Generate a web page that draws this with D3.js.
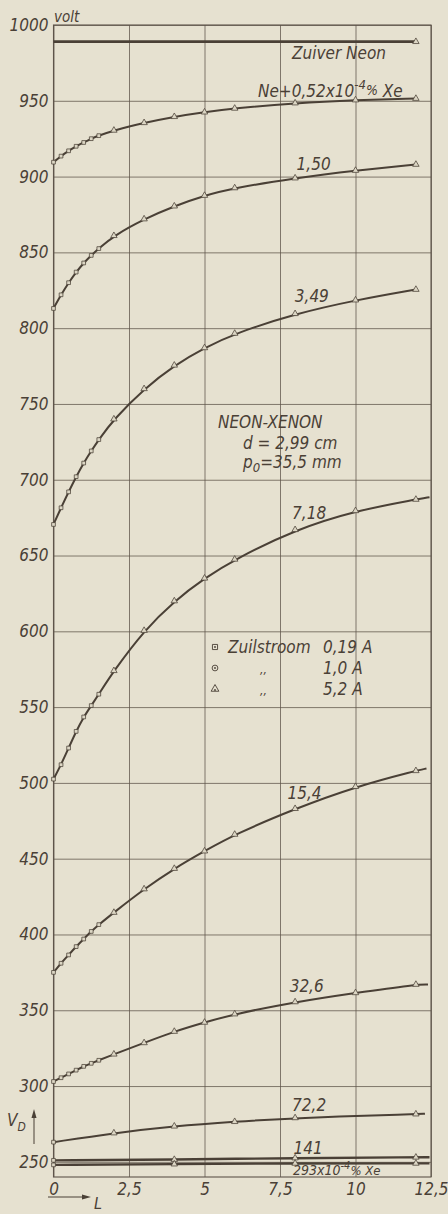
<!DOCTYPE html>
<html>
<head>
<meta charset="utf-8">
<script src="https://cdn.jsdelivr.net/npm/d3@7"></script>
<style>
  html, body { margin: 0; padding: 0; background: #e6e1d0; }
  svg { display: block; }
  text { font-family: "DejaVu Sans Condensed", "Liberation Sans Narrow", sans-serif; font-style: italic; fill: #4a4036; }
</style>
</head>
<body>
<svg id="chart" width="448" height="1214"></svg>
<script>
// L values where points were measured (dense near the tube start)
var Lfull = [0, 0.25, 0.5, 0.75, 1, 1.25, 1.5, 2, 3, 4, 5, 6, 8, 10, 12];
var Lsparse = [0, 2, 4, 6, 8, 12];
var Lfew = [0, 4, 8, 12];

// V_D (volt) per Xe concentration
var vNeon = [989, 989];
var v052 = [909.5, 913.5, 917, 920, 922.5, 925, 927, 930.5, 935.5, 939.5, 942.5, 945, 948.5, 950.5, 951.5];
var v150 = [813, 822, 830, 837, 843, 848, 852.5, 861, 872, 880.5, 887.5, 892.5, 899, 904, 908];
var v349 = [670.5, 681.5, 692, 702, 711, 719, 726.5, 740, 760, 775.5, 787, 796.5, 809.5, 818.5, 825.5];
var v718 = [502.5, 512, 523, 534, 543.5, 551, 558.5, 574, 600.5, 620, 635, 647.5, 667, 679.5, 687];
var v154 = [375, 381, 386.5, 392, 397, 402, 406.5, 414.5, 430, 443.5, 455, 466, 483, 497.5, 508];
var v326 = [303, 305.5, 308, 310.5, 313, 315, 317, 321, 328.5, 336, 342, 347.5, 355.5, 361.5, 367];
var v722 = [263, 269, 273.5, 276.5, 279, 281.5];
var v141 = [251, 251.5, 252.5, 253];
var v293 = [248, 248.5, 249, 249];

var xTicks = [0, 2.5, 5, 7.5, 10, 12.5];
var yTicks = d3.range(250, 1001, 50);

var series = [
  {L: [0, 12], V: vNeon, endL: null, endV: null, w: 2.6, label: "Zuiver Neon", lx: 7.9, ly: 977.5},
  {L: Lfull, V: v052, endL: null, endV: null, w: 2, label: "", lx: 0, ly: 0},
  {L: Lfull, V: v150, endL: null, endV: null, w: 2, label: "1,50", lx: 8.05, ly: 904.5},
  {L: Lfull, V: v349, endL: null, endV: null, w: 2, label: "3,49", lx: 7.99, ly: 817.5},
  {L: Lfull, V: v718, endL: 12.45, endV: 688.5, w: 2, label: "7,18", lx: 7.9, ly: 674},
  {L: Lfull, V: v154, endL: 12.35, endV: 509.5, w: 2, label: "15,4", lx: 7.75, ly: 489.5},
  {L: Lfull, V: v326, endL: 12.4, endV: 367, w: 2, label: "32,6", lx: 7.82, ly: 362},
  {L: Lsparse, V: v722, endL: 12.3, endV: 281.8, w: 2, label: "72,2", lx: 7.9, ly: 283.5},
  {L: Lfew, V: v141, endL: 12.45, endV: 253, w: 2.4, label: "141", lx: 7.95, ly: 255.5},
  {L: Lfew, V: v293, endL: 12.45, endV: 249, w: 2.4, label: "", lx: 0, ly: 0}
];

var ink = "#4a4036";
var svg = d3.select("#chart");

var x = d3.scaleLinear().domain([0, 12.5]).range([53.5, 431]);
var y = d3.scaleLinear().domain([240, 1000]).range([1177, 25]);

var comma = function(d) { return String(d).replace(".", ","); };

// grid + tick labels
var gy = svg.append("g")
  .attr("transform", "translate(" + x(0) + ",0)")
  .call(d3.axisLeft(y).tickValues(yTicks).tickSize(-(x(12.5) - x(0))).tickPadding(5).tickFormat(d3.format("d")));
var gx = svg.append("g")
  .attr("transform", "translate(0," + y(240) + ")")
  .call(d3.axisBottom(x).tickValues(xTicks).tickSize(-(y(240) - y(1000))).tickPadding(6).tickFormat(comma));
[gy, gx].forEach(function(g) {
  g.select(".domain").remove();
  g.selectAll("line").attr("stroke", "#5e544a").attr("stroke-width", 0.9).attr("opacity", 0.85);
  g.selectAll("text").attr("font-size", 17).attr("fill", ink)
    .style("font-family", "'DejaVu Sans Condensed', sans-serif").style("font-style", "italic");
});

svg.append("rect")
  .attr("x", x(0)).attr("y", y(1000))
  .attr("width", x(12.5) - x(0)).attr("height", y(240) - y(1000))
  .attr("fill", "none").attr("stroke", "#5e544a").attr("stroke-width", 1.1);

// curves
var line = d3.line()
  .x(function(d) { return x(d[0]); })
  .y(function(d) { return y(d[1]); })
  .curve(d3.curveBasis);

var sq = d3.symbol().type(d3.symbolSquare).size(14);
var tri = d3.symbol().type(d3.symbolTriangle).size(18);

series.forEach(function(s) {
  var pts = s.L.map(function(l, i) { return [l, s.V[i]]; });
  var lpts = pts.slice();
  if (s.endL !== null) lpts.push([s.endL, s.endV]);
  svg.append("path")
    .datum(lpts)
    .attr("d", line)
    .attr("fill", "none")
    .attr("stroke", ink)
    .attr("stroke-width", s.w);

  svg.append("g").selectAll("path")
    .data(pts.filter(function(d, i) { return s.L.length > 2 || i === 1; }))
    .enter().append("path")
    .attr("transform", function(d) { return "translate(" + x(d[0]) + "," + y(d[1]) + ")"; })
    .attr("d", function(d) { return d[0] < 2 ? sq() : tri(); })
    .attr("fill", "#dcd6c4")
    .attr("stroke", ink)
    .attr("stroke-width", 0.75);

  if (s.label) {
    svg.append("text")
      .attr("x", x(s.lx)).attr("y", y(s.ly))
      .attr("font-size", 17)
      .text(s.label);
  }
});

// special labels
var t1 = svg.append("text").attr("x", 258).attr("y", 97).attr("font-size", 17);
t1.append("tspan").text("Ne+0,52x10");
t1.append("tspan").attr("dy", -8).attr("font-size", 13).text("-4");
t1.append("tspan").attr("dy", 6).attr("font-size", 14).text("%");
t1.append("tspan").attr("dy", 2).attr("font-size", 17).text(" Xe");

var t2 = svg.append("text").attr("x", 293).attr("y", 1175).attr("font-size", 14);
t2.append("tspan").text("293x10");
t2.append("tspan").attr("dy", -6).attr("font-size", 11).text("-4");
t2.append("tspan").attr("dy", 6).attr("font-size", 13).text("% Xe");

svg.append("text").attr("x", 54).attr("y", 22).attr("font-size", 15).text("volt");

svg.append("text").attr("x", 218).attr("y", 428).attr("font-size", 17).text("NEON-XENON");
svg.append("text").attr("x", 243).attr("y", 449).attr("font-size", 17).text("d = 2,99 cm");
var t3 = svg.append("text").attr("x", 243).attr("y", 468).attr("font-size", 17);
t3.append("tspan").text("p");
t3.append("tspan").attr("dy", 4).attr("font-size", 13).text("0");
t3.append("tspan").attr("dy", -4).text("=35,5 mm");

// legend
var legendMarks = [d3.symbolSquare, d3.symbolCircle, d3.symbolTriangle];
var legendLeft = ["Zuilstroom", ",,", ",,"];
var legendRight = ["0,19 A", "1,0 A", "5,2 A"];
legendMarks.forEach(function(m, i) {
  var ly = 647 + i * 21;
  svg.append("path")
    .attr("transform", "translate(215," + ly + ")")
    .attr("d", d3.symbol().type(m).size(26)())
    .attr("fill", "none").attr("stroke", ink).attr("stroke-width", 0.9);
  svg.append("circle").attr("cx", 215).attr("cy", ly + (i === 2 ? 1 : 0)).attr("r", 0.9).attr("fill", ink);
  svg.append("text").attr("x", i === 0 ? 228 : 260).attr("y", ly + 6).attr("font-size", i === 0 ? 17 : 12).text(legendLeft[i]);
  svg.append("text").attr("x", 323).attr("y", ly + 6).attr("font-size", 17).text(legendRight[i]);
});

// axis names
var vd = svg.append("text").attr("x", 7).attr("y", 1126).attr("font-size", 17);
vd.append("tspan").text("V");
vd.append("tspan").attr("dy", 5).attr("font-size", 12).text("D");
svg.append("line").attr("x1", 34).attr("x2", 34).attr("y1", 1144).attr("y2", 1114).attr("stroke", ink).attr("stroke-width", 1);
svg.append("path").attr("d", "M34,1109 L31.5,1118 L36.5,1118 Z").attr("fill", ink);

svg.append("line").attr("x1", 48).attr("x2", 84).attr("y1", 1197).attr("y2", 1197).attr("stroke", ink).attr("stroke-width", 1);
svg.append("path").attr("d", "M91,1197 L82,1194.5 L82,1199.5 Z").attr("fill", ink);
svg.append("text").attr("x", 94).attr("y", 1209).attr("font-size", 16).text("L");
</script>
</body>
</html>
